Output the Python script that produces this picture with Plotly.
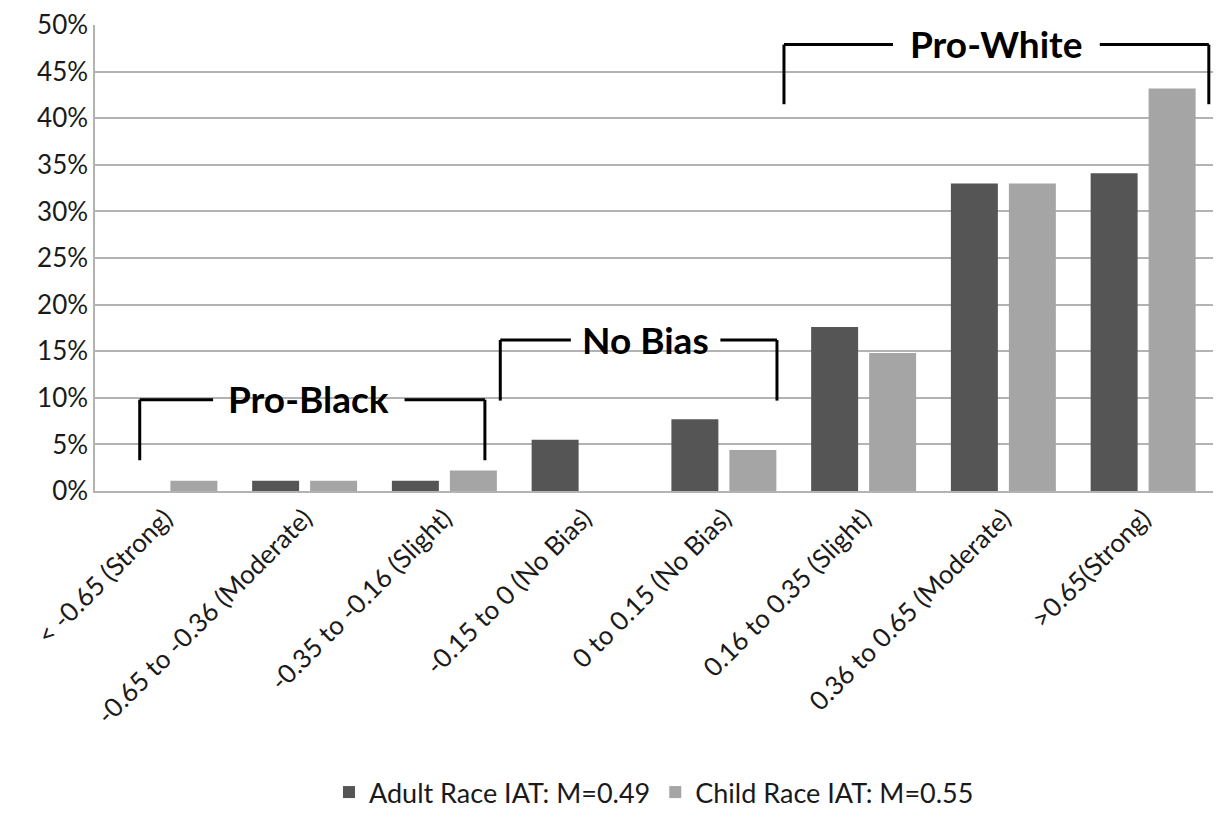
import plotly.graph_objects as go

categories = ["< -0.65 (Strong)", "-0.65 to -0.36 (Moderate)", "-0.35 to -0.16 (Slight)",
              "-0.15 to 0 (No Bias)", "0 to 0.15 (No Bias)", "0.16 to 0.35 (Slight)",
              "0.36 to 0.65 (Moderate)", ">0.65(Strong)"]
adult = [0.0, 1.1, 1.1, 5.5, 7.7, 17.6, 33.0, 34.1]
child = [1.1, 1.1, 2.2, 0.0, 4.4, 14.8, 33.0, 43.2]
y_ticks = [0, 5, 10, 15, 20, 25, 30, 35, 40, 45, 50]
y_labels = [f"{v}%" for v in y_ticks]

FONT = "Lato"
TXT = "#1a1a1a"

fig = go.Figure()
fig.add_trace(go.Bar(x=categories, y=adult, name="Adult Race IAT: M=0.49",
                     marker=dict(color="#555555", line=dict(width=0))))
fig.add_trace(go.Bar(x=categories, y=child, name="Child Race IAT: M=0.55",
                     marker=dict(color="#a5a5a5", line=dict(width=0))))

# bracket annotations: (x_left, x_text, x_right, y_line, y_end, label, text_halfwidth)
brackets = [
    (-0.18, 1.03, 2.29, 9.8, 3.3, "Pro-Black", 0.685),
    (2.40, 3.44, 4.38, 16.2, 9.7, "No Bias", 0.535),
    (4.43, 5.95, 7.47, 47.9, 41.5, "Pro-White", 0.74),
]
shapes = []
line_style = dict(color="black", width=3)
for xl, xt, xr, yl, ye, label, hw in brackets:
    shapes.append(dict(type="line", xref="x", yref="y", x0=xl, x1=xl, y0=ye, y1=yl, line=line_style))
    shapes.append(dict(type="line", xref="x", yref="y", x0=xl, x1=xt - hw, y0=yl, y1=yl, line=line_style))
    shapes.append(dict(type="line", xref="x", yref="y", x0=xt + hw, x1=xr, y0=yl, y1=yl, line=line_style))
    shapes.append(dict(type="line", xref="x", yref="y", x0=xr, x1=xr, y0=yl, y1=ye, line=line_style))
    fig.add_annotation(x=xt, y=yl, xref="x", yref="y", text=f"<b>{label}</b>", showarrow=False,
                       font=dict(family=FONT, size=37, color="black"), yshift=1)

fig.update_layout(
    width=1205, height=809,
    margin=dict(l=87, r=0, t=17, b=310),
    paper_bgcolor="white", plot_bgcolor="white",
    barmode="group", bargap=0.17, bargroupgap=0.19,
    shapes=shapes,
    showlegend=True,
    legend=dict(orientation="h", x=0.5, xanchor="center", y=-0.648, yanchor="middle",
                font=dict(family=FONT, size=27, color=TXT), itemwidth=30),
    font=dict(family=FONT, color=TXT),
)
fig.update_yaxes(range=[0, 50], tickvals=y_ticks, ticktext=y_labels,
                 showgrid=True, gridcolor="#b3b3b3", gridwidth=1.5,
                 showline=True, linecolor="#b3b3b3", linewidth=1.5,
                 tickfont=dict(family=FONT, size=26, color=TXT), ticks="", zeroline=False,
                 ticklabeloverflow="allow", automargin=False)
fig.update_xaxes(tickangle=-45, tickfont=dict(family=FONT, size=26, color=TXT),
                 showline=True, linecolor="#b3b3b3", linewidth=1.5, ticks="", range=[-0.5, 7.5],
                 ticklabeloverflow="allow", automargin=False)

fig.write_html("out.html")
